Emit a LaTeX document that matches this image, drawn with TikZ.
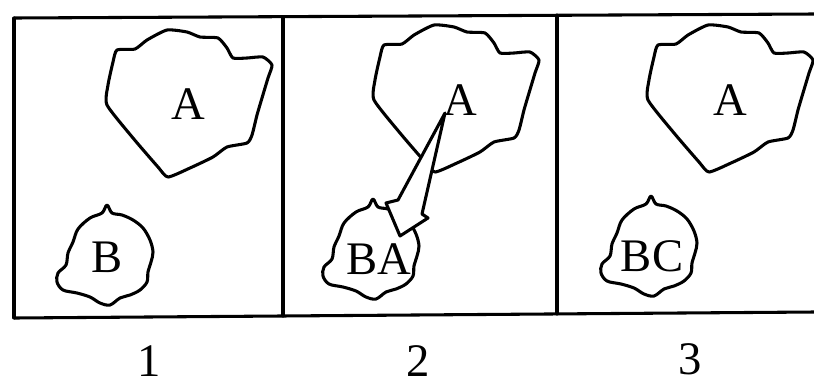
\documentclass[tikz,border=0pt]{standalone}
\usepackage{fontspec}
\setmainfont{Liberation Serif}
\begin{document}
\begin{tikzpicture}[x=0.75pt,y=-0.75pt,
  outline/.style={line width=2.3pt,line join=round,line cap=round},
  lbl/.style={font=\fontsize{35}{38}\selectfont,inner sep=0pt},
  numlbl/.style={lbl,text depth=0pt,anchor=base},
  arrowshape/.style={outline,fill=white}]
\useasboundingbox (0,0) rectangle (814,387);

% outline shapes of the two regions
\def\blobA{plot[smooth cycle,tension=0.35] coordinates{
  (117,50) (135,49) (147,40) (167,30) (187,32) (200,37) (218,38) (227,48)
  (233,58) (247,58) (263,57) (272,65) (268,78) (262,98) (257,115) (252,135)
  (247,143) (227,147) (213,157) (190,168) (168,177) (158,167) (133,138)
  (107,105) (108,85) (113,62)}}
\def\blobB{plot[smooth cycle,tension=0.55] coordinates{
  (107,205) (112,213) (122,215) (133,220) (143,228) (150,240) (153,252)
  (151,262) (148,272) (147,282) (140,290) (130,295) (120,298) (110,305)
  (100,303) (90,297) (77,293) (63,290) (57,282) (58,273) (66,265) (68,253)
  (73,242) (78,229) (90,218) (102,213)}}

% frame
\coordinate (tl) at (14,18);
\coordinate (tr) at (814,14);
\coordinate (bl) at (14,318);
\coordinate (br) at (814,312);
\coordinate (d1t) at (283,17);
\coordinate (d1b) at (283,316);
\coordinate (d2t) at (557,15);
\coordinate (d2b) at (557,314);
\draw[outline,line cap=butt] (tl) -- (tr);
\draw[outline,line cap=butt] (bl) -- (br);
\draw[outline] (tl) -- (bl);
\draw[outline] (d1t) -- (d1b);
\draw[outline] (d2t) -- (d2b);

% panel 1
\draw[outline] \blobA;
\draw[outline] \blobB;
\node[lbl] (a1) at (188,104) {A};
\node[lbl] (b1) at (107,257) {B};

% panel 2
\draw[outline,shift={(267,-5)}] \blobA;
\draw[outline,shift={(266,-6)}] \blobB;
\draw[arrowshape] (445,113) -- (398,200) -- (386,203) -- (400,236)
  -- (428,218) -- (422,214) -- cycle;
\node[lbl] (a2) at (460,100) {A};
\node[lbl] (b2) at (379,259) {BA};

% panel 3
\draw[outline,shift={(541,-5)}] \blobA;
\draw[outline,shift={(544,-9)}] \blobB;
\node[lbl] (a3) at (730,100) {A};
\node[lbl] (b3) at (652,256) {BC};

% panel numbers
\node[numlbl] (n1) at (149,376) {1};
\node[numlbl] (n2) at (418,376) {2};
\node[numlbl] (n3) at (690,374) {3};
\end{tikzpicture}
\end{document}
